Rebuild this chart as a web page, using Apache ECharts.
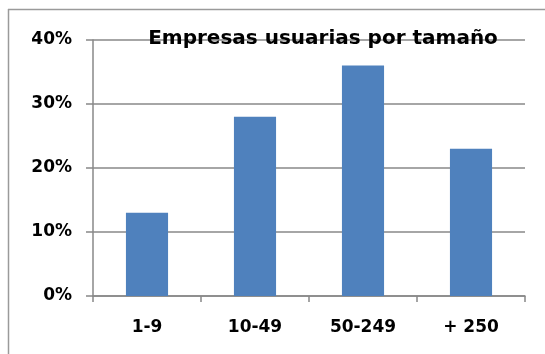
<!DOCTYPE html>
<html>
<head>
<meta charset="utf-8">
<script src="https://cdn.jsdelivr.net/npm/echarts@6/dist/echarts.min.js"></script>
<style>
  html, body { margin: 0; padding: 0; background: #fff; }
  #chart { width: 545px; height: 354px; }
</style>
</head>
<body>
<div id="chart"></div>
<script>
// Company size bands and share of user companies (%)
const categories = ['1-9', '10-49', '50-249', '+ 250'];
const shares = [13, 28, 36, 23];
const yTicks = { min: 0, max: 40, interval: 10 };
const titleText = 'Empresas usuarias por tamaño';

const fontFamily = 'DejaVu Sans';
const lineGray = '#888888';

const chart = echarts.init(document.getElementById('chart'), null, { renderer: 'canvas' });
chart.setOption({
  animation: false,
  backgroundColor: '#ffffff',
  title: {
    text: titleText,
    left: 318,
    top: 24,
    textAlign: 'center',
    textStyle: { fontFamily, fontSize: 20, fontWeight: 'bold', color: '#000' }
  },
  graphic: [
    { type: 'line', shape: { x1: 8, y1: 9.5, x2: 545, y2: 9.5 }, style: { stroke: '#9a9a9a', lineWidth: 1.5 } },
    { type: 'line', shape: { x1: 8.5, y1: 9, x2: 8.5, y2: 354 }, style: { stroke: '#9a9a9a', lineWidth: 1.5 } }
  ],
  grid: { left: 93, right: 20, top: 40, bottom: 58 },
  xAxis: {
    type: 'category',
    data: categories,
    axisLine: { lineStyle: { color: lineGray, width: 1.5 } },
    axisTick: { show: true, length: 6, lineStyle: { color: lineGray, width: 1.5 } },
    axisLabel: { margin: 23, fontFamily, fontSize: 17, fontWeight: 'bold', color: '#000' }
  },
  yAxis: {
    type: 'value',
    min: yTicks.min,
    max: yTicks.max,
    interval: yTicks.interval,
    axisLine: { show: true, lineStyle: { color: lineGray, width: 1.5 } },
    axisTick: { show: true, length: 7, lineStyle: { color: lineGray, width: 1.5 } },
    splitLine: { lineStyle: { color: lineGray, width: 1.5 } },
    axisLabel: { margin: 21, formatter: '{value}%', fontFamily, fontSize: 17, fontWeight: 'bold', color: '#000' }
  },
  series: [{
    type: 'bar',
    data: shares,
    barCategoryGap: '61%',
    itemStyle: { color: '#4F81BD' }
  }]
});
</script>
</body>
</html>
